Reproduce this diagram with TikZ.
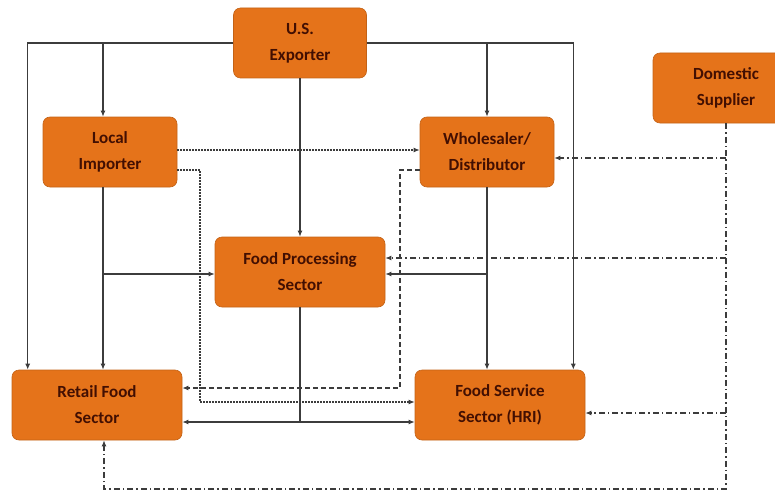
\documentclass[tikz,border=0pt]{standalone}
\usepackage{fontspec}
\setmainfont{Carlito}
\usetikzlibrary{arrows.meta}
\definecolor{boxorange}{HTML}{E5731A}
\definecolor{boxtext}{HTML}{420F02}
\definecolor{linegray}{HTML}{3C3C3C}
\begin{document}
\begin{tikzpicture}[
	box/.style={rounded corners=7pt, fill=boxorange, draw=boxorange!85!black, line width=0.6pt,
		text=boxtext, font=\fontsize{17}{26}\selectfont\bfseries, align=center,
		minimum height=70pt, inner sep=2pt},
	flow/.style={draw=linegray, line width=1.2pt, -{Latex[length=6pt,width=5pt]}},
	dotflow/.style={flow, dash pattern=on 1.5pt off 1.5pt},
	dashflow/.style={flow, dash pattern=on 5pt off 3pt},
	domflow/.style={flow, dash pattern=on 6pt off 3pt on 1.5pt off 3pt}]
	\begin{scope}[x=1pt, y=-1pt]
		\useasboundingbox (0,0) rectangle (775,492);
		% Define the boxes at their positions
		\node[box, minimum width=133pt] (exp) at (300, 43) {U.S.\\Exporter};
		\node[box, minimum width=134pt] (imp) at (110, 152) {Local\\Importer};
		\node[box, minimum width=134pt] (whl) at (487, 152) {Wholesaler/\\Distributor};
		\node[box, minimum width=146pt] (dom) at (726, 88) {Domestic\\Supplier};
		\node[box, minimum width=170pt] (fps) at (300, 272) {Food Processing\\Sector};
		\node[box, minimum width=170pt] (ret) at (97, 405) {Retail Food\\Sector};
		\node[box, minimum width=170pt] (fs) at (500, 405) {Food Service\\Sector (HRI)};

		% Turning points of the broken lines
		\coordinate (dotcol) at (200, 402);
		\coordinate (dashcol) at (400, 388);
		\coordinate (domcorner) at (726, 489);
		\coordinate (whlin) at ([yshift=-6pt]whl.east);
		\coordinate (fpsin) at ([yshift=14pt]fps.east);
		\coordinate (fsin) at ([yshift=-8pt]fs.east);

		% Solid lines from the exporter and the importers
		\draw[flow] (exp.west) -| ([xshift=16pt]ret.north west);
		\draw[flow] (exp.west) -| ([xshift=-7pt]imp.north);
		\draw[flow] (exp.east) -| ([xshift=-12pt]fs.north east);
		\draw[flow] (exp.east) -| (whl.north);
		\draw[flow] (exp.south) -- (fps.north);
		\draw[flow] ([xshift=-7pt]imp.south) -- ([xshift=6pt]ret.north);
		\draw[flow] ([xshift=-7pt]imp.south) |- ([yshift=-2pt]fps.west);
		\draw[flow] (whl.south) -- (whl.south |- fs.north);
		\draw[flow] (whl.south) |- ([yshift=-2pt]fps.east);
		\draw[flow] (fps.south) |- ([yshift=-17pt]ret.east);
		\draw[flow] (fps.south) |- ([yshift=-17pt]fs.west);

		% Dotted and dashed lines
		\draw[dotflow] ([yshift=2pt]imp.east) -- ([yshift=2pt]whl.west);
		\draw[dotflow] ([yshift=-18pt]imp.east) -| (dotcol) -- (dotcol -| fs.west);
		\draw[dashflow] ([yshift=-18pt]whl.west) -| (dashcol) -- (dashcol -| ret.east);

		% Lines from the domestic supplier
		\draw[domflow] (dom.south) -- (domcorner) -| ([xshift=7pt]ret.south);
		\draw[domflow] (dom.south |- whlin) -- (whlin);
		\draw[domflow] (dom.south |- fpsin) -- (fpsin);
		\draw[domflow] (dom.south |- fsin) -- (fsin);
	\end{scope}
\end{tikzpicture}
\end{document}
